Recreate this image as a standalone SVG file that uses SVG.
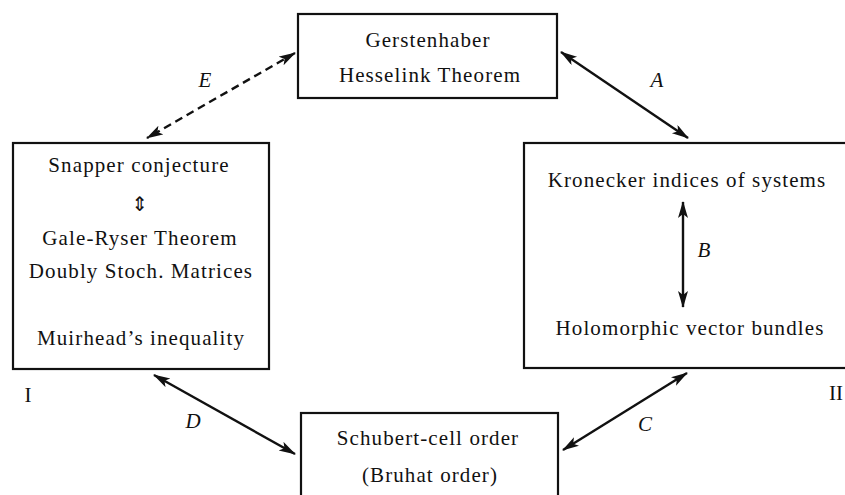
<svg xmlns="http://www.w3.org/2000/svg" width="845" height="495" viewBox="0 0 845 495">
<style>
.box{fill:#fff;stroke:#111;stroke-width:2.2}
.t{font-family:"Liberation Serif","Times New Roman",serif;font-size:21px;fill:#111;text-anchor:middle;letter-spacing:1.1px}
.lab{font-family:"Liberation Serif","Times New Roman",serif;font-size:21px;font-style:italic;fill:#111;text-anchor:middle}
.rom{font-family:"Liberation Serif","Times New Roman",serif;font-size:21px;fill:#111;text-anchor:middle}
.c{stroke:#111;stroke-width:2.4;fill:none;marker-start:url(#ah);marker-end:url(#ah)}
.d{stroke-dasharray:8 5}
</style>
<defs>
<marker id="ah" markerUnits="userSpaceOnUse" markerWidth="18" markerHeight="12" refX="16" refY="5" orient="auto-start-reverse">
<path d="M0,0 L17,5 L0,10 L4,5 z" fill="#111"/>
</marker>
</defs>
<g id="node-top">
<rect class="box" x="298" y="14" width="259" height="84"/>
<text class="t" x="428" y="47">Gerstenhaber</text>
<text class="t" x="430" y="82">Hesselink Theorem</text>
</g>
<g id="node-left">
<rect class="box" x="13" y="143" width="256" height="226"/>
<text class="t" x="139" y="172">Snapper conjecture</text>
<text class="rom" x="140" y="211" style="font-family:'DejaVu Sans',sans-serif;font-size:20px">⇕</text>
<text class="t" x="140" y="245">Gale-Ryser Theorem</text>
<text class="t" x="141" y="278">Doubly Stoch. Matrices</text>
<text class="t" x="141" y="345">Muirhead’s inequality</text>
</g>
<g id="node-right">
<rect class="box" x="524" y="143" width="330" height="225"/>
<text class="t" x="687" y="187">Kronecker indices of systems</text>
<text class="t" x="690" y="335">Holomorphic vector bundles</text>
</g>
<g id="node-bottom">
<rect class="box" x="301" y="413" width="257" height="100"/>
<text class="t" x="428" y="445">Schubert-cell order</text>
<text class="t" x="430" y="482">(Bruhat order)</text>
</g>
<g id="connectors">
<line class="c" x1="561" y1="52" x2="688" y2="138"/>
<line class="c d" x1="295" y1="53" x2="147" y2="138"/>
<line class="c" x1="683" y1="202" x2="683" y2="307"/>
<line class="c" x1="687" y1="373" x2="563" y2="450"/>
<line class="c" x1="154" y1="375" x2="295" y2="454"/>
</g>
<g id="labels">
<text class="lab" x="657" y="87">A</text>
<text class="lab" x="704" y="257">B</text>
<text class="lab" x="645" y="431">C</text>
<text class="lab" x="193" y="428">D</text>
<text class="lab" x="205" y="87">E</text>
<text class="rom" x="28" y="402">I</text>
<text class="rom" x="836" y="400">II</text>
</g>
</svg>
